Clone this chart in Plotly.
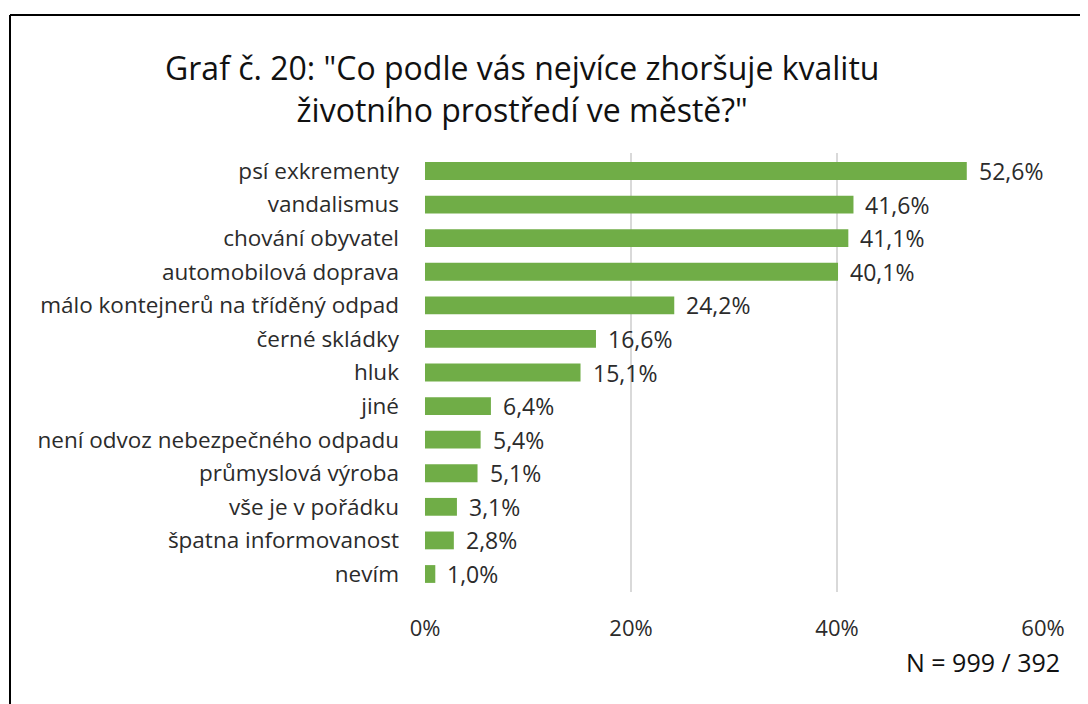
import plotly.graph_objects as go

categories = [
    "psí exkrementy", "vandalismus", "chování obyvatel", "automobilová doprava",
    "málo kontejnerů na tříděný odpad", "černé skládky", "hluk", "jiné",
    "není odvoz nebezpečného odpadu", "průmyslová výroba", "vše je v pořádku",
    "špatna informovanost", "nevím",
]
values = [52.6, 41.6, 41.1, 40.1, 24.2, 16.6, 15.1, 6.4, 5.4, 5.1, 3.1, 2.8, 1.0]
tick_vals = [0, 20, 40, 60]
tick_text = ["0%", "20%", "40%", "60%"]
title_lines = ["Graf č. 20: \"Co podle vás nejvíce zhoršuje kvalitu", "životního prostředí ve městě?\""]
note = "N = 999 / 392"

FONT = "Open Sans"
TXT = "#2b2b2b"
OFF = 8  # page body margin
W, H = 1088, 704
L, R, T, B = 425 - OFF, 45 + OFF, 153 - OFF, 112 + OFF
pw, ph = W - L - R, H - T - B

def px(x):
    return (x - OFF - L) / pw

def py(y):
    return (H - B - (y - OFF)) / ph

fig = go.Figure()
fig.add_trace(go.Bar(
    x=values, y=categories, orientation="h",
    marker=dict(color="#70AD47", line=dict(width=0)),
    hoverinfo="skip",
))

for c, v in zip(categories, values):
    fig.add_annotation(
        x=v, y=c, xref="x", yref="y", text=f"{v:.1f}".replace(".", ",") + "%",
        showarrow=False, xanchor="left", xshift=10,
        font=dict(family=FONT, size=23, color=TXT),
    )

fig.add_annotation(
    x=px(522), y=py(89), xref="paper", yref="paper", text="<br>".join(title_lines),
    showarrow=False, xanchor="center", yanchor="middle", align="center",
    font=dict(family=FONT, size=32, color="#111111"),
)
fig.add_annotation(
    x=px(1062), y=py(662), xref="paper", yref="paper", text=note,
    showarrow=False, xanchor="right", yanchor="middle",
    font=dict(family=FONT, size=25, color="#111111"),
)

# frame
fig.add_shape(type="line", xref="paper", yref="paper",
              x0=px(10), x1=px(1120), y0=py(15), y1=py(15),
              line=dict(color="black", width=2))
fig.add_shape(type="line", xref="paper", yref="paper",
              x0=px(10), x1=px(10), y0=py(15), y1=py(740),
              line=dict(color="black", width=2))

fig.update_layout(
    width=W, height=H,
    margin=dict(l=L, r=R, t=T, b=B),
    paper_bgcolor="white", plot_bgcolor="white",
    showlegend=False, bargap=0.47,
    font=dict(family=FONT, size=23, color=TXT),
)
fig.update_xaxes(
    range=[0, 60], tickvals=tick_vals, ticktext=tick_text,
    showgrid=True, gridcolor="#D9D9D9", gridwidth=1.5,
    zeroline=False, showline=False, ticks="",
    tickfont=dict(family=FONT, size=22, color=TXT),
    ticklabelstandoff=21,
)
fig.update_yaxes(
    autorange="reversed", showgrid=False, zeroline=False, showline=False,
    ticks="", ticklabelstandoff=25,
    tickfont=dict(family=FONT, size=22.5, color=TXT),
)

fig.write_html("out.html")
